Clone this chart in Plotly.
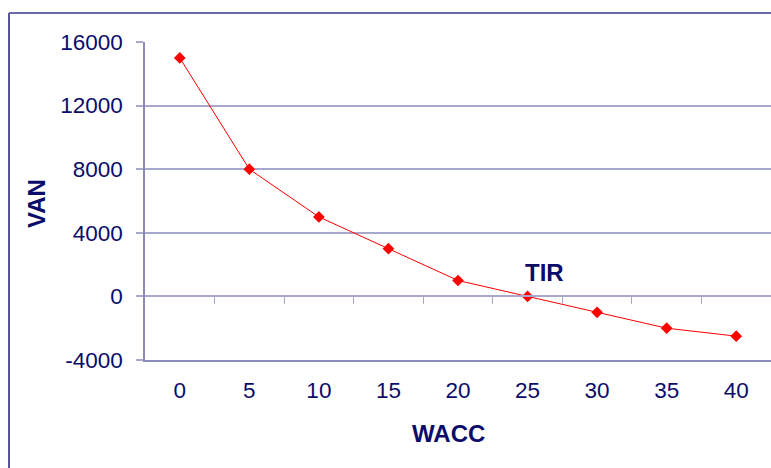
import plotly.graph_objects as go

# NPV profile: net present value (VAN) against discount rate (WACC, %)
wacc = [0, 5, 10, 15, 20, 25, 30, 35, 40]
van = [15000, 8000, 5000, 3000, 1000, 0, -1000, -2000, -2500]
y_ticks = [-4000, 0, 4000, 8000, 12000, 16000]
irr_rate = 25
irr_value = 0

NAVY = "#0b0b6b"
GRID = "#a8a8cc"
AXIS = "#8c8cbc"
FONT = "Liberation Sans, Arial, sans-serif"

W, H = 771, 468
L, R, T, B = 145, 0, 42, 108

x_range = [wacc[0] - 2.5, wacc[-1] + 2.5]
y_range = [y_ticks[0], y_ticks[-1]]
step = wacc[1] - wacc[0]
boundaries = [v + step / 2 for v in wacc[:-1]]

fig = go.Figure()
fig.add_trace(go.Scatter(
    x=wacc, y=van, mode="lines+markers",
    line=dict(color="#ff0000", width=1),
    marker=dict(symbol="diamond", size=9, color="#ff0000"),
    hoverinfo="x+y", showlegend=False,
))
# helper trace so the category axis crossing at zero is rendered
fig.add_trace(go.Scatter(
    x=[wacc[0]], y=[0], xaxis="x2", mode="markers",
    marker=dict(opacity=0), hoverinfo="skip", showlegend=False,
))

zero_pos = (0 - y_range[0]) / (y_range[1] - y_range[0])

fig.update_layout(
    width=W, height=H,
    margin=dict(l=L, r=R, t=T, b=B),
    paper_bgcolor="white", plot_bgcolor="white",
    font=dict(family=FONT, color=NAVY, size=22),
    xaxis=dict(
        range=x_range, tickvals=wacc, ticktext=[str(v) for v in wacc],
        showgrid=False, zeroline=False, showline=True, linecolor=AXIS,
        linewidth=1.5, ticks="", ticklabelstandoff=9,
        tickfont=dict(size=22.5, color=NAVY),
    ),
    xaxis2=dict(
        overlaying="x", anchor="free", position=zero_pos, side="bottom",
        range=x_range, tickvals=boundaries, showticklabels=False,
        ticks="outside", ticklen=7, tickwidth=1.2, tickcolor=GRID,
        showline=True, linecolor=GRID, linewidth=1.5,
        showgrid=False, zeroline=False,
    ),
    yaxis=dict(
        range=y_range, tickvals=y_ticks, ticktext=[str(v) for v in y_ticks],
        showgrid=True, gridcolor=GRID, gridwidth=1.5, zeroline=False,
        showline=True, linecolor=AXIS, linewidth=1.5,
        ticks="outside", ticklen=7, tickcolor=GRID, tickwidth=1.5,
        ticklabelstandoff=9, tickfont=dict(size=22.5, color=NAVY),
    ),
)

pw = W - L - R
ph = H - T - B

def px_x(p):
    return (p - L) / pw

def px_y(p):
    return (H - B - p) / ph

# outer chart frame
fig.add_shape(type="line", xref="paper", yref="paper",
              x0=px_x(9), x1=px_x(9), y0=px_y(13), y1=px_y(470),
              line=dict(color="#1c1c74", width=1.5))
fig.add_shape(type="line", xref="paper", yref="paper",
              x0=px_x(9), x1=px_x(775), y0=px_y(13), y1=px_y(13),
              line=dict(color="#6a6aa8", width=2))

# axis titles
fig.add_annotation(text="<b>WACC</b>", xref="paper", yref="paper",
                   x=px_x(448), y=px_y(433), showarrow=False,
                   font=dict(size=24, color=NAVY), xanchor="center", yanchor="middle")
fig.add_annotation(text="<b>VAN</b>", xref="paper", yref="paper",
                   x=px_x(36), y=px_y(203), showarrow=False, textangle=-90,
                   font=dict(size=24, color=NAVY), xanchor="center", yanchor="middle")

# internal rate of return marker label
fig.add_annotation(text="<b>TIR</b>", x=irr_rate, y=irr_value, showarrow=False,
                   xshift=17, yshift=24, font=dict(size=24, color=NAVY),
                   xanchor="center", yanchor="middle")

fig.write_html("out.html")
